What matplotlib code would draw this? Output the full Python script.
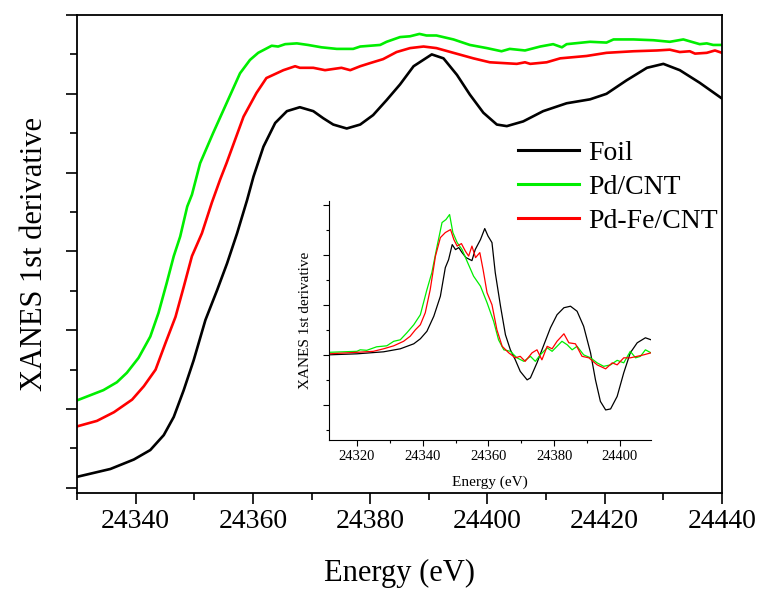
import numpy as np
import matplotlib
matplotlib.use('Agg')
import matplotlib.pyplot as plt
from matplotlib.ticker import MultipleLocator

plt.rcParams['font.family'] = ['Liberation Serif', 'DejaVu Serif']

# main plot: XANES spectra (arb. units, offset)
foil_x = [24330, 24335.7, 24339.7, 24342.5, 24344.8, 24346.5, 24348.2, 24349.9, 24351.9, 24353.9,
          24355.6, 24357.3, 24359, 24360.1, 24361.8, 24363.8, 24365.8, 24368, 24370.3, 24372,
          24373.7, 24376, 24378.3, 24380.5, 24382.8, 24385.1, 24387.4, 24390.5, 24392.5, 24394.8,
          24397, 24399.3, 24401.6, 24403.3, 24406.1, 24409.5, 24413.5, 24417.5, 24420.3, 24423.7,
          24427.2, 24430, 24432.8, 24436.2, 24440]
foil_y = [0.14, 0.24, 0.36, 0.48, 0.67, 0.9, 1.24, 1.62, 2.13, 2.51,
          2.85, 3.23, 3.65, 3.95, 4.33, 4.63, 4.78, 4.83, 4.78, 4.69,
          4.61, 4.56, 4.61, 4.73, 4.92, 5.12, 5.35, 5.5, 5.45, 5.24,
          4.99, 4.76, 4.61, 4.59, 4.65, 4.78, 4.88, 4.93, 5.0, 5.17,
          5.33, 5.38, 5.3, 5.14, 4.94]

pd_x = [24330, 24334.5, 24336.8, 24338.5, 24340.5, 24342.5, 24343.9, 24345.3, 24346.5, 24347.6,
        24348.8, 24349.6, 24351, 24353.2, 24355.5, 24357.8, 24359.5, 24360.9, 24363.2, 24364.3,
        24365.5, 24367.5, 24369.4, 24371.7, 24374.3, 24377.1, 24378.3, 24381.7, 24382.8, 24385.1,
        24386.8, 24388.4, 24389.6, 24391.3, 24394.2, 24397, 24399.9, 24402.4, 24403.8, 24406.4,
        24409, 24411.2, 24412.7, 24413.5, 24417.5, 24420.3, 24421.5, 24424.9, 24428.3, 24431.1,
        24433.4, 24436.2, 24437.4, 24438.5, 24440]
pd_y = [1.11, 1.24, 1.34, 1.46, 1.65, 1.92, 2.22, 2.6, 2.94, 3.19,
        3.57, 3.72, 4.12, 4.5, 4.88, 5.26, 5.43, 5.52, 5.61, 5.6,
        5.63, 5.64, 5.62, 5.59, 5.57, 5.57, 5.6, 5.62, 5.66, 5.72,
        5.73, 5.76, 5.74, 5.74, 5.69, 5.62, 5.58, 5.54, 5.57, 5.55,
        5.6, 5.63, 5.59, 5.63, 5.66, 5.65, 5.69, 5.69, 5.68, 5.66,
        5.69, 5.63, 5.64, 5.62, 5.62]

pdfe_x = [24330, 24333.4, 24336.3, 24339.4, 24341.4, 24343.4, 24345.1, 24346.8, 24348.2, 24349.6,
          24351.3, 24353, 24354.4, 24355.5, 24358.4, 24360.6, 24362.3, 24365.2, 24367.2, 24368,
          24370.3, 24372.3, 24375.1, 24376.6, 24378.3, 24380, 24382.2, 24384.5, 24386.8, 24389.1,
          24391.3, 24394.2, 24397.6, 24400.4, 24405, 24406.4, 24407.3, 24410.1, 24412.4, 24416.9,
          24420.3, 24424.9, 24428.9, 24431.1, 24432.8, 24434.5, 24435.4, 24437.4, 24438.8, 24440]
pdfe_y = [0.78, 0.85, 0.96, 1.12, 1.29, 1.5, 1.84, 2.17, 2.55, 2.94,
          3.23, 3.62, 3.91, 4.12, 4.71, 5.01, 5.2, 5.3, 5.35, 5.33,
          5.33, 5.3, 5.33, 5.3, 5.35, 5.39, 5.44, 5.53, 5.58, 5.6,
          5.58, 5.52, 5.45, 5.4, 5.38, 5.4, 5.38, 5.4, 5.45, 5.48,
          5.52, 5.54, 5.55, 5.56, 5.53, 5.54, 5.51, 5.52, 5.55, 5.52]

# inset: first derivative
in_foil_x = [24311.5, 24320, 24328.1, 24333.2, 24337.3, 24339.3, 24341.3, 24343.4, 24345.4, 24346.9,
             24347.9, 24349, 24350, 24351, 24352, 24353.2, 24355, 24356, 24357.6, 24358.9,
             24359.9, 24361.1, 24362.1, 24363.7, 24365.2, 24366.7, 24368.2, 24369.7, 24371.8, 24372.8,
             24374.8, 24376.9, 24378.9, 24380.9, 24383, 24385, 24387, 24389, 24391.1, 24392.6,
             24394.1, 24395.7, 24397.2, 24399.2, 24401.2, 24403.2, 24405.3, 24407.8, 24409.5]
in_foil_y = [0.01, 0.03, 0.07, 0.13, 0.23, 0.33, 0.48, 0.78, 1.18, 1.75,
             1.91, 2.21, 2.11, 2.15, 2.05, 1.95, 1.89, 2.11, 2.31, 2.53,
             2.38, 2.25, 1.65, 0.98, 0.41, 0.11, -0.09, -0.32, -0.49, -0.45,
             -0.15, 0.21, 0.55, 0.81, 0.95, 0.98, 0.88, 0.58, 0.05, -0.49,
             -0.92, -1.09, -1.07, -0.82, -0.35, 0.05, 0.25, 0.35, 0.31]

in_pd_x = [24311.5, 24320, 24321, 24323, 24326, 24329.1, 24331.2, 24333.2, 24335.2, 24337.3,
           24339.3, 24341.3, 24342.8, 24344.4, 24345.9, 24347.1, 24348.2, 24349.2, 24350.5, 24352,
           24353.5, 24355.5, 24357.6, 24359.6, 24361.6, 24363.1, 24364.7, 24366.7, 24368.7, 24370.8,
           24372.8, 24374.3, 24375.8, 24377.9, 24379.4, 24380.9, 24382.4, 24384, 24385.5, 24387,
           24389, 24391.1, 24393.1, 24395.1, 24397.2, 24399.2, 24401.2, 24403.2, 24404.8, 24406.3,
           24407.8, 24409.5]
in_pd_y = [0.06, 0.08, 0.11, 0.1, 0.17, 0.19, 0.28, 0.31, 0.45, 0.61,
           0.81, 1.31, 1.65, 2.18, 2.65, 2.71, 2.81, 2.45, 2.25, 2.11,
           1.88, 1.58, 1.38, 1.05, 0.68, 0.31, 0.11, 0.08, -0.05, -0.12,
           -0.02, -0.12, 0.01, 0.15, 0.08, 0.18, 0.28, 0.21, 0.11, 0.18,
           0.01, -0.05, -0.15, -0.22, -0.19, -0.1, -0.15, 0.08, -0.05, -0.02,
           0.11, 0.05]

in_pdfe_x = [24311.5, 24320, 24325, 24328.1, 24331.2, 24334.2, 24336.2, 24337.8, 24339.3, 24340.8,
             24342.3, 24343.9, 24345.4, 24346.9, 24348.5, 24349.5, 24350.5, 24351.8, 24353, 24354,
             24355, 24356.1, 24357.4, 24358.4, 24359.6, 24361.1, 24362.6, 24364.2, 24366.2, 24368.2,
             24369.7, 24371.2, 24373.3, 24374.8, 24376.3, 24377.9, 24379.4, 24380.9, 24383, 24384.5,
             24386.5, 24388.5, 24390.6, 24393.1, 24395.7, 24397.7, 24399.2, 24401.2, 24403.2, 24405.3,
             24407.3, 24409.5]
in_pdfe_y = [0.03, 0.06, 0.08, 0.13, 0.19, 0.28, 0.38, 0.51, 0.61, 0.85,
             1.31, 1.98, 2.35, 2.45, 2.51, 2.31, 2.18, 2.23, 2.08, 1.98,
             2.18, 1.95, 2.05, 1.71, 1.25, 1.01, 0.51, 0.18, 0.05, -0.05,
             -0.02, -0.12, 0.05, 0.11, -0.09, 0.18, 0.13, 0.28, 0.43, 0.25,
             0.23, -0.02, -0.05, -0.19, -0.27, -0.15, -0.19, -0.05, -0.05, -0.02,
             0.01, 0.05]

fig = plt.figure(figsize=(7.6, 5.9), dpi=100)
ax = fig.add_axes([77/760, 1-493/590, 645/760, 478/590])

ax.plot(foil_x, foil_y, color='black', lw=1.9, label='Foil', solid_joinstyle='round')
ax.plot(pd_x, pd_y, color='#00ee00', lw=1.9, label='Pd/CNT', solid_joinstyle='round')
ax.plot(pdfe_x, pdfe_y, color='#ff0000', lw=1.9, label='Pd-Fe/CNT', solid_joinstyle='round')

ax.set_xlim(24330, 24440)
ax.set_ylim(-0.065, 6.0)
ax.xaxis.set_major_locator(MultipleLocator(20))
ax.xaxis.set_minor_locator(MultipleLocator(10))
ax.yaxis.set_major_locator(MultipleLocator(1))
ax.yaxis.set_minor_locator(MultipleLocator(0.5))
ax.tick_params(which='both', direction='out', width=1.2, labelsize=20)
ax.tick_params(which='major', length=8)
ax.tick_params(which='minor', length=5)
ax.tick_params(axis='y', labelleft=False)
for s in ax.spines.values():
    s.set_linewidth(1.3)
ax.set_xlabel('Energy (eV)', fontsize=22, labelpad=18)
ax.set_ylabel('XANES 1st derivative', fontsize=22, labelpad=12)

# inset
ins = fig.add_axes([329/760, 1-440/590, 322/760, 239/590])
ins.patch.set_visible(False)
ins.plot(in_foil_x, in_foil_y, color='black', lw=0.9)
ins.plot(in_pd_x, in_pd_y, color='#00ee00', lw=0.9)
ins.plot(in_pdfe_x, in_pdfe_y, color='#ff0000', lw=0.9)
ins.set_xlim(24311.5, 24409.5)
ins.set_ylim(-1.69, 3.08)
ins.xaxis.set_major_locator(MultipleLocator(20))
ins.xaxis.set_minor_locator(MultipleLocator(10))
ins.yaxis.set_major_locator(MultipleLocator(1))
ins.yaxis.set_minor_locator(MultipleLocator(0.5))
ins.spines['top'].set_visible(False)
ins.spines['right'].set_visible(False)
ins.tick_params(which='both', direction='out', labelsize=10.5, width=0.8)
ins.tick_params(which='major', length=4)
ins.tick_params(which='minor', length=2.5)
ins.tick_params(axis='y', labelleft=False)
ins.set_xlabel('Energy (eV)', fontsize=11, labelpad=9)
ins.set_ylabel('XANES 1st derivative', fontsize=11, labelpad=6)

leg = ax.legend(loc='upper left', bbox_to_anchor=(512/760, 1-135/590),
                bbox_transform=fig.transFigure, frameon=False, fontsize=20,
                handlelength=2.2, handletextpad=0.35, labelspacing=0.3,
                borderaxespad=0, borderpad=0.2)
leg.set_zorder(10)
for line in leg.get_lines():
    line.set_linewidth(2.2)

fig.savefig('out.png', dpi=100)
